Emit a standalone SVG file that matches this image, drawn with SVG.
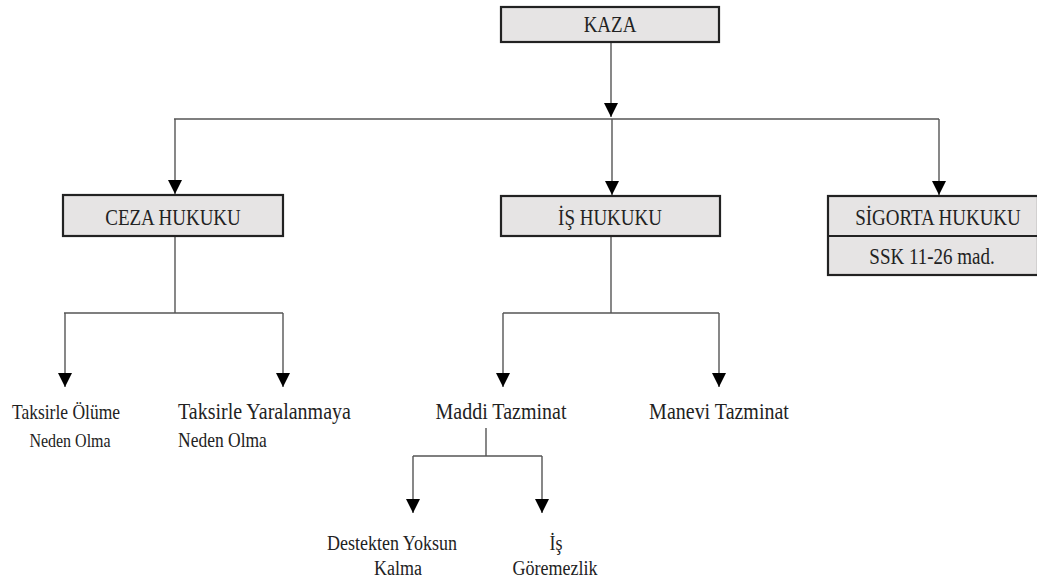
<svg xmlns="http://www.w3.org/2000/svg" width="1037" height="581" viewBox="0 0 1037 581">
<style>
.box{fill:#e6e4e4;stroke:#222;stroke-width:2.2}
.ln{fill:none;stroke:#555;stroke-width:1.4}
.t{font-family:"Liberation Serif","Times New Roman",serif;fill:#222;text-anchor:middle}
.b{font-size:19px}
.m{font-size:20px}
.s{font-size:18px}
</style>
<defs>
<marker id="ah" viewBox="0 0 10 10" refX="10" refY="5" markerWidth="16" markerHeight="14" markerUnits="userSpaceOnUse" orient="auto">
<path d="M0,0 L10,5 L0,10 Z" fill="#000"/>
</marker>
</defs>
<rect width="1037" height="581" fill="#fff"/>
<g id="connectors">
<line class="ln" x1="611" y1="42" x2="611" y2="117" marker-end="url(#ah)"/>
<line class="ln" x1="174" y1="119" x2="939" y2="119"/>
<line class="ln" x1="175" y1="119" x2="175" y2="194" marker-end="url(#ah)"/>
<line class="ln" x1="612" y1="119" x2="612" y2="195" marker-end="url(#ah)"/>
<line class="ln" x1="939" y1="119" x2="939" y2="195" marker-end="url(#ah)"/>
<polyline class="ln" points="175,236 175,313"/>
<line class="ln" x1="64" y1="313" x2="283" y2="313"/>
<line class="ln" x1="65" y1="313" x2="65" y2="387" marker-end="url(#ah)"/>
<line class="ln" x1="283" y1="313" x2="283" y2="387" marker-end="url(#ah)"/>
<polyline class="ln" points="611,236 611,313"/>
<line class="ln" x1="503" y1="313" x2="719" y2="313"/>
<line class="ln" x1="503" y1="313" x2="503" y2="387" marker-end="url(#ah)"/>
<line class="ln" x1="719" y1="313" x2="719" y2="387" marker-end="url(#ah)"/>
<polyline class="ln" points="486,428 486,456"/>
<line class="ln" x1="413" y1="456" x2="542" y2="456"/>
<line class="ln" x1="413" y1="456" x2="413" y2="513" marker-end="url(#ah)"/>
<line class="ln" x1="542" y1="456" x2="542" y2="513" marker-end="url(#ah)"/>
</g>
<g id="kaza">
<rect class="box" x="501" y="7" width="218" height="35"/>
<text class="t b" transform="translate(610 32) scale(1 1.2)">KAZA</text>
</g>
<g id="ceza">
<rect class="box" x="63" y="195" width="220" height="41"/>
<text class="t b" transform="translate(173 225) scale(1 1.2)">CEZA HUKUKU</text>
</g>
<g id="is">
<rect class="box" x="501" y="196" width="219" height="40"/>
<text class="t b" transform="translate(610 225) scale(1 1.2)">İŞ HUKUKU</text>
</g>
<g id="sigorta">
<rect class="box" x="828" y="196" width="210" height="79"/>
<line x1="828" y1="236" x2="1038" y2="236" stroke="#222" stroke-width="2"/>
<text class="t b" transform="translate(938 225) scale(1 1.2)">SİGORTA HUKUKU</text>
<text class="t b" transform="translate(932 264) scale(1 1.2)">SSK 11-26 mad.</text>
</g>
<g id="olum">
<text class="t" style="font-size:17.5px" transform="translate(66 419) scale(1 1.2)">Taksirle Ölüme</text>
<text class="t" style="font-size:16px" transform="translate(70 447) scale(1 1.2)">Neden Olma</text>
</g>
<g id="yaralanma">
<text class="t" style="font-size:20px;text-anchor:start" transform="translate(178 419) scale(1 1.2)">Taksirle Yaralanmaya</text>
<text class="t" style="font-size:17.5px;text-anchor:start" transform="translate(178 447) scale(1 1.2)">Neden Olma</text>
</g>
<g id="maddi">
<text class="t m" transform="translate(501 419) scale(1 1.2)">Maddi Tazminat</text>
</g>
<g id="manevi">
<text class="t m" transform="translate(719 419) scale(1 1.2)">Manevi Tazminat</text>
</g>
<g id="destek">
<text class="t s" transform="translate(392 550) scale(1 1.2)">Destekten Yoksun</text>
<text class="t s" transform="translate(398 575) scale(1 1.2)">Kalma</text>
</g>
<g id="isgoremezlik">
<text class="t s" transform="translate(556 550) scale(1 1.2)">İş</text>
<text class="t s" transform="translate(555 575) scale(1 1.2)">Göremezlik</text>
</g>
</svg>
